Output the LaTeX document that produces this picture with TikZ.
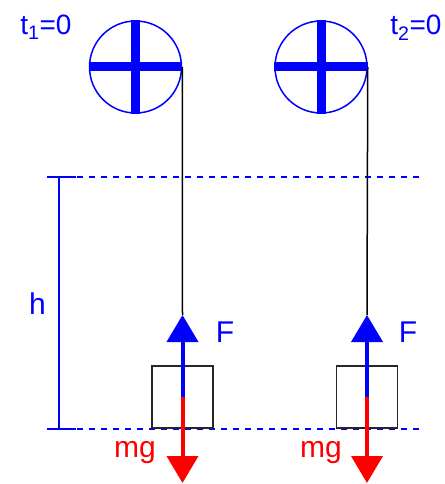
\documentclass[tikz,border=0pt]{standalone}
\usepackage{fontspec}
\setmainfont{Liberation Sans}
\usetikzlibrary{arrows.meta,positioning}
\definecolor{myblue}{rgb}{0,0,1}
\definecolor{myred}{rgb}{1,0,0}
\tikzstyle{pulley} = [draw=myblue, line width=1.5pt, circle, minimum size=92pt, inner sep=0pt]
\tikzstyle{spoke} = [myblue, line width=9pt]
\tikzstyle{load} = [draw=black!85, line width=1.5pt, rectangle, minimum width=61pt, minimum height=62pt, inner sep=0pt]
\tikzstyle{rope} = [black, line width=1.5pt]
\tikzstyle{level} = [myblue, line width=2pt, dash pattern=on 6pt off 6pt]
\tikzstyle{force} = [line width=4pt, -{Triangle[width=31pt,length=27pt]}]
\tikzstyle{lbl} = [font=\fontsize{30}{32}\selectfont, inner sep=0pt, anchor=base]

\begin{document}
\begin{tikzpicture}[x=1pt, y=-1pt]
    \useasboundingbox (0,0) rectangle (444,484);
    % pulleys
    \node[pulley] (p1) at (135.5,67) {};
    \node[pulley] (p2) at (321,67) {};
    \draw[spoke] (p1.west) -- (p1.east);
    \draw[spoke] (p1.north) -- (p1.south);
    \draw[spoke] (p2.west) -- (p2.east);
    \draw[spoke] (p2.north) -- (p2.south);
    \node[lbl, text=myblue, font=\fontsize{28}{30}\selectfont] (t1) at (46,35) {t\textsubscript{1}=0};
    \node[lbl, text=myblue, font=\fontsize{28}{30}\selectfont] (t2) at (416,35) {t\textsubscript{2}=0};

    % start and end levels
    \coordinate (hTop) at (59,177);
    \coordinate (hBot) at (59,429);
    \draw[level] (77,177) coordinate (top0) -- (422,177) coordinate (top1);
    \draw[level] (77,429) coordinate (bot0) -- (422,429) coordinate (bot1);
    \draw[myblue, line width=2pt] (hTop) -- (hBot);
    \draw[myblue, line width=2pt] ([xshift=-12pt]hTop) -- ([xshift=17pt]hTop);
    \draw[myblue, line width=2pt] ([xshift=-12pt]hBot) -- ([xshift=17pt]hBot);
    \node[lbl, text=myblue] (h) at (37.5,314) {h};

    % loads
    \node[load] (b1) at (182.5,397) {};
    \node[load] (b2) at (367,397) {};
    \coordinate (up1) at (182.5,315);
    \coordinate (up2) at (367,315);
    \coordinate (dn1) at (182.5,483);
    \coordinate (dn2) at (367,483);

    % ropes
    \draw[rope] (p1.east) -- (up1);
    \draw[rope] (p2.east) -- (up2);

    % forces
    \draw[force, myblue] (b1.center) -- (up1);
    \draw[force, myblue] (b2.center) -- (up2);
    \draw[force, myred] (b1.center) -- (dn1);
    \draw[force, myred] (b2.center) -- (dn2);
    \node[lbl, text=myblue] (F1) at (225,342) {F};
    \node[lbl, text=myblue] (F2) at (408,342) {F};
    \node[lbl, text=myred] (mg1) at (135,457) {mg};
    \node[lbl, text=myred] (mg2) at (321,457) {mg};
\end{tikzpicture}
\end{document}
